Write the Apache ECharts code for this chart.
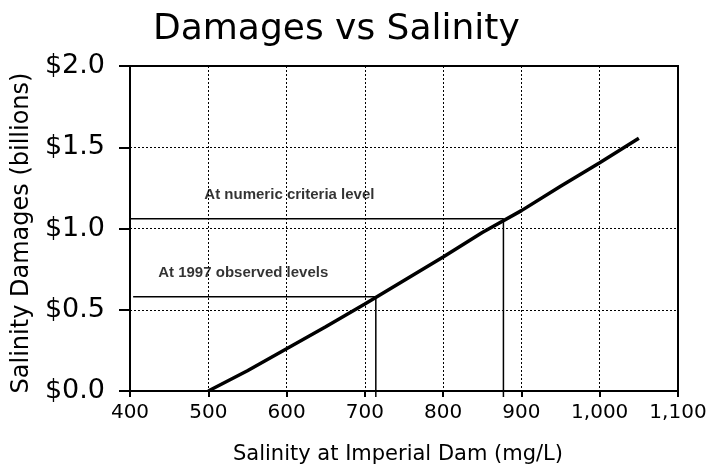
<!DOCTYPE html>
<html>
<head>
<meta charset="utf-8">
<script src="https://cdn.jsdelivr.net/npm/echarts@6/dist/echarts.min.js"></script>
<style>
  html, body { margin: 0; padding: 0; background: #fff; }
  #chart { width: 717px; height: 474px; }
</style>
</head>
<body>
<div id="chart"></div>
<script>
// damages curve
const salinity = [500, 550, 600, 650, 700, 750, 800, 850, 900, 950, 1000, 1050];
const damages = [0, 0.125, 0.26, 0.395, 0.535, 0.68, 0.825, 0.975, 1.11, 1.26, 1.405, 1.555];

// reference levels
const observedSalinity = 714;
const observedDamages = 0.58;
const criteriaSalinity = 877;
const criteriaDamages = 1.06;
// the drop lines run a little past the axis, like ticks
const dropEnd = -0.037;

// annotation labels
const labelTexts = ['At numeric criteria level', 'At 1997 observed levels'];
const labelX = [495, 436];
const labelY = [1.205, 0.726];

const chart = echarts.init(document.getElementById('chart'));

const black = '#000';

chart.setOption({
  animation: false,
  title: {
    text: 'Damages vs Salinity',
    left: 148,
    top: 7,
    textStyle: { fontFamily: 'DejaVu Sans', fontSize: 36, fontWeight: 'normal', color: black }
  },
  grid: {
    left: 130, right: 39, top: 66, bottom: 83,
    show: true, borderColor: black, borderWidth: 2
  },
  xAxis: {
    type: 'value',
    min: 400, max: 1100, interval: 100,
    name: 'Salinity at Imperial Dam (mg/L)',
    nameLocation: 'middle',
    nameGap: 53,
    nameTextStyle: { fontFamily: 'DejaVu Sans', fontSize: 21, color: black, padding: [0, 12, 0, 0] },
    axisLine: { show: true, lineStyle: { color: black, width: 2 } },
    axisTick: { show: true, length: 6, lineStyle: { color: black, width: 2 } },
    axisLabel: {
      margin: 12,
      fontFamily: 'DejaVu Sans', fontSize: 20, color: black,
      formatter: v => v.toLocaleString('en-US')
    },
    splitLine: { show: true, lineStyle: { color: black, width: 1, type: [2, 2] } }
  },
  yAxis: {
    type: 'value',
    min: 0, max: 2, interval: 0.5,
    name: 'Salinity Damages (billions)',
    nameLocation: 'middle',
    nameGap: 93,
    nameTextStyle: { fontFamily: 'DejaVu Sans', fontSize: 24, color: black, padding: [0, 9, 0, 0] },
    axisLine: { show: true, lineStyle: { color: black, width: 2 } },
    axisTick: { show: true, length: 11, lineStyle: { color: black, width: 2 } },
    axisLabel: {
      margin: 25,
      fontFamily: 'DejaVu Sans', fontSize: 27, color: black,
      formatter: v => '$' + v.toFixed(1)
    },
    splitLine: { show: true, lineStyle: { color: black, width: 1, type: [2, 2] } }
  },
  series: [
    {
      type: 'line',
      data: salinity.map((s, i) => [s, damages[i]]),
      symbol: 'none',
      lineStyle: { color: black, width: 3.5 },
      z: 5
    },
    {
      type: 'line',
      clip: false,
      data: [[400, criteriaDamages], [criteriaSalinity, criteriaDamages], [criteriaSalinity, dropEnd]],
      symbol: 'none',
      lineStyle: { color: black, width: 1.5 },
      z: 4
    },
    {
      type: 'line',
      clip: false,
      data: [[404, observedDamages], [observedSalinity, observedDamages], [observedSalinity, dropEnd]],
      symbol: 'none',
      lineStyle: { color: black, width: 1.5 },
      z: 4
    },
    {
      type: 'scatter',
      symbolSize: 0,
      data: labelTexts.map((t, i) => ({ value: [labelX[i], labelY[i]], name: t })),
      label: {
        show: true,
        position: 'right',
        distance: 0,
        formatter: p => p.name,
        fontFamily: 'Liberation Sans', fontSize: 15, fontWeight: 'bold', color: black
      },
      z: 6
    }
  ]
});
</script>
</body>
</html>
